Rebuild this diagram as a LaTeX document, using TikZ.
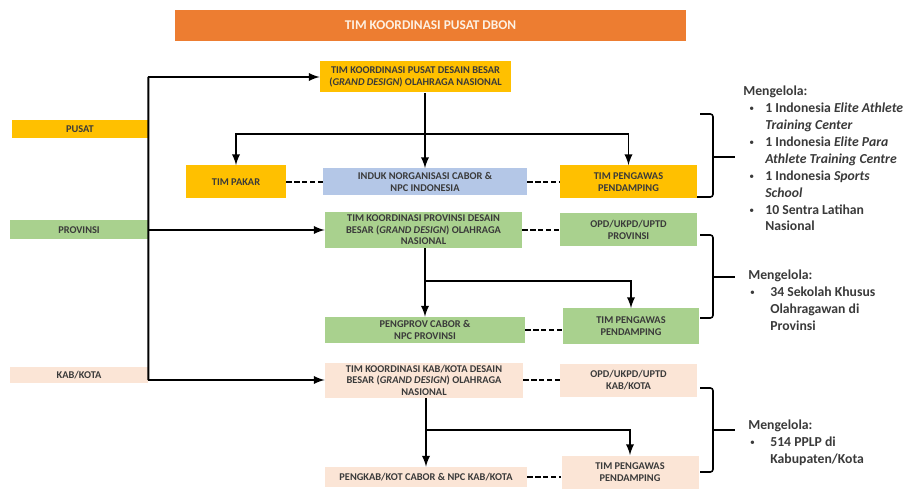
\documentclass[tikz,border=0pt]{standalone}
\usepackage{fontspec}
\setmainfont{Carlito}
\usepackage{tikz}
\definecolor{dbonorange}{HTML}{ED7D31}
\definecolor{dbongold}{HTML}{FFC000}
\definecolor{dbonblue}{HTML}{B4C7E7}
\definecolor{dbongreen}{HTML}{A9D18E}
\definecolor{dbonpeach}{HTML}{FBE5D6}
\definecolor{dbontext}{HTML}{3A3A3A}
\definecolor{dbontitle}{HTML}{FDF1E3}
\tikzstyle{unitbox}=[rectangle,inner sep=1pt,align=center,text=dbontext,
font=\fontsize{5.9}{6.6}\selectfont\bfseries]
\tikzstyle{goldbox}=[unitbox,fill=dbongold]
\tikzstyle{bluebox}=[unitbox,fill=dbonblue]
\tikzstyle{greenbox}=[unitbox,fill=dbongreen]
\tikzstyle{peachbox}=[unitbox,fill=dbonpeach]
\tikzstyle{link}=[line width=1.1pt,-latex]
\tikzstyle{peer}=[line width=1.1pt,dash pattern=on 3pt off 1.5pt]
\tikzstyle{brace}=[line width=0.9pt,rounded corners=1.5pt]
\tikzstyle{note}=[anchor=north west,inner sep=0pt,align=left,text=dbontext,
font=\fontsize{7.8}{9.6}\selectfont\bfseries]
\newcommand{\notebul}[2][3.4pt]{\makebox[12.5pt][l]{\hspace*{#1}\raisebox{0.6pt}{\fontsize{5.5}{5.5}\selectfont\mdseries\textbullet}}#2}
\newcommand{\notecnt}[1]{\hspace*{12.5pt}#1}

\begin{document}
\begin{tikzpicture}[x=0.2mm,y=-0.2mm]
        \useasboundingbox (0,0) rectangle (907,490);
        % title bar
        \node [unitbox,fill=dbonorange,text=dbontitle,minimum width=102.2mm,minimum height=6.2mm,
               font=\fontsize{7.6}{8.6}\selectfont\bfseries] (dbon) at (430.5,25.5) {TIM KOORDINASI PUSAT DBON};
        % level labels
        \node [goldbox,minimum width=27.2mm,minimum height=3.6mm] (pusat) at (80,129) {PUSAT};
        \node [greenbox,minimum width=27.6mm,minimum height=3.8mm] (provinsi) at (79,230) {PROVINSI};
        \node [peachbox,minimum width=27.6mm,minimum height=3.2mm] (kabkota) at (79,375) {KAB/KOTA};
        % pusat
        \node [goldbox,minimum width=38.2mm,minimum height=6.2mm] (pusatdg) at (415.5,77)
              {TIM KOORDINASI PUSAT DESAIN BESAR\\(\textit{GRAND DESIGN}) OLAHRAGA NASIONAL};
        \node [goldbox,minimum width=20mm,minimum height=6.6mm] (pakar) at (236,182) {TIM PAKAR};
        \node [bluebox,minimum width=40.8mm,minimum height=5.4mm] (induk) at (425,182)
              {INDUK NORGANISASI CABOR \&\\NPC INDONESIA};
        \node [goldbox,minimum width=27.4mm,minimum height=6.6mm] (pengawas1) at (628.5,182)
              {TIM PENGAWAS\\PENDAMPING};
        % provinsi
        \node [greenbox,minimum width=39.4mm,minimum height=7.2mm] (provdg) at (423.5,230)
              {TIM KOORDINASI PROVINSI DESAIN\\BESAR (\textit{GRAND DESIGN}) OLAHRAGA\\NASIONAL};
        \node [greenbox,minimum width=27.4mm,minimum height=6.6mm] (opdprov) at (628.5,230)
              {OPD/UKPD/UPTD\\PROVINSI};
        \node [greenbox,minimum width=40mm,minimum height=5.2mm] (pengprov) at (425,330)
              {PENGPROV CABOR \&\\NPC PROVINSI};
        \node [greenbox,minimum width=27.2mm,minimum height=7mm] (pengawas2) at (631,326)
              {TIM PENGAWAS\\PENDAMPING};
        % kab/kota
        \node [peachbox,minimum width=39.6mm,minimum height=7mm] (kabdg) at (424,380)
              {TIM KOORDINASI KAB/KOTA DESAIN\\BESAR (\textit{GRAND DESIGN}) OLAHRAGA\\NASIONAL};
        \node [peachbox,minimum width=27.4mm,minimum height=6.6mm] (opdkab) at (628.5,380)
              {OPD/UKPD/UPTD\\KAB/KOTA};
        \node [peachbox,minimum width=40.4mm,minimum height=4mm] (pengkab) at (426,477)
              {PENGKAB/KOT CABOR \& NPC KAB/KOTA};
        \node [peachbox,minimum width=27.4mm,minimum height=6.6mm] (pengawas3) at (630,472)
              {TIM PENGAWAS\\PENDAMPING};
        % spine
        \coordinate (spinetop) at (pusat.east |- pusatdg.west);
        \coordinate (spinebot) at (kabkota.east |- kabdg.west);
        \draw [line width=1.1pt] (spinetop) to (spinebot);
        \draw [link] (spinetop) to (pusatdg.west);
        \draw [link] (provinsi.east |- provdg.west) to (provdg.west);
        \draw [link] (spinebot) to (kabdg.west);
        % branches
        \coordinate (hub1) at (424,134);
        \draw [link] (induk.north |- pusatdg.south) to (induk.north);
        \draw [link] (hub1) -| (pakar.north);
        \draw [link] (hub1) -| (pengawas1.north);
        \coordinate (hub2) at (425,281);
        \draw [link] (pengprov.north |- provdg.south) to (pengprov.north);
        \draw [link] (hub2) -| (pengawas2.north);
        \coordinate (hub3) at (426,430);
        \draw [link] (pengkab.north |- kabdg.south) to (pengkab.north);
        \draw [link] (hub3) -| (pengawas3.north);
        % peers
        \draw [peer] (pakar.east) to (pakar.east -| induk.west);
        \draw [peer] (induk.east) to (induk.east -| pengawas1.west);
        \draw [peer] (provdg.east) to (provdg.east -| opdprov.west);
        \draw [peer] (pengprov.east) to (pengprov.east -| pengawas2.west);
        \draw [peer] (kabdg.east) to (kabdg.east -| opdkab.west);
        \draw [peer] (pengkab.east) to (pengkab.east -| pengawas3.west);
        % brackets
        \draw [brace] (700,114) -- (713,114) -- (713,197) -- (697,197);
        \draw [brace] (713,157) -- (735,157);
        \draw [brace] (700,235) -- (713,235) -- (713,318) -- (700,318);
        \draw [brace] (713,277) -- (735,277);
        \draw [brace] (700,388) -- (713,388) -- (713,472) -- (700,472);
        \draw [brace] (713,430) -- (735,430);
        % notes
        \node [note] (note1) at (743,86) {Mengelola:\\
              \notebul{1 Indonesia \textit{Elite Athlete}}\\
              \notecnt{\textit{Training Center}}\\
              \notebul{1 Indonesia \textit{Elite Para}}\\
              \notecnt{\textit{Athlete Training Centre}}\\
              \notebul{1 Indonesia \textit{Sports}}\\
              \notecnt{\textit{School}}\\
              \notebul{10 Sentra Latihan}\\
              \notecnt{Nasional}};
        \node [note] (note2) at (748,270) {Mengelola:\\
              \notebul[1pt]{34 Sekolah Khusus}\\
              \notecnt{Olahragawan di}\\
              \notecnt{Provinsi}};
        \node [note] (note3) at (748,420) {Mengelola:\\
              \notebul[1pt]{514 PPLP di}\\
              \notecnt{Kabupaten/Kota}};
    \end{tikzpicture}
\end{document}
